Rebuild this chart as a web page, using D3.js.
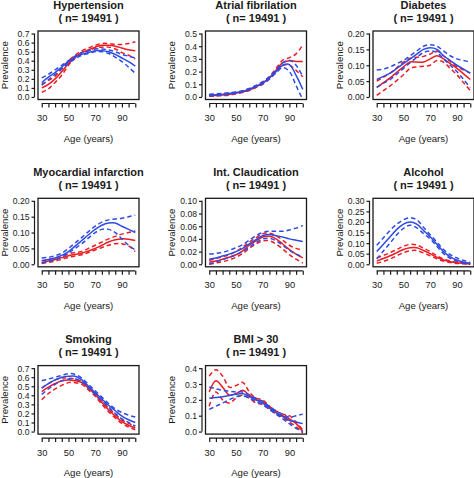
<!DOCTYPE html>
<html>
<head>
<meta charset="utf-8">
<script src="https://cdn.jsdelivr.net/npm/d3@7"></script>
<style>
  html, body { margin: 0; padding: 0; background: #ffffff; }
  svg { display: block; }
  text { font-family: "Liberation Sans", Arial, Helvetica, sans-serif; fill: #1a1a1a; }
</style>
</head>
<body>
<div id="chart"></div>
<script>
// ---------------- DATA ----------------
const ages = [30, 35, 40, 45, 50, 55, 60, 65, 70, 75, 80, 85, 90, 95, 100];
const xTicks = [30, 35, 40, 45, 50, 55, 60, 65, 70, 75, 80, 85, 90, 95, 100];
const xTickLabels = [30, 50, 70, 90];
const sampleLabel = "( n= 19491 )";
const panelTitles = ["Hypertension", "Atrial fibrilation", "Diabetes",
  "Myocardial infarction", "Int. Claudication", "Alcohol", "Smoking", "BMI > 30"];

// y tick values per panel
const hypTicks = [0, 0.1, 0.2, 0.3, 0.4, 0.5, 0.6, 0.7];
const afTicks = [0, 0.1, 0.2, 0.3, 0.4, 0.5];
const diabTicks = [0, 0.05, 0.10, 0.15, 0.20];
const miTicks = [0, 0.05, 0.10, 0.15, 0.20];
const icTicks = [0, 0.02, 0.04, 0.06, 0.08, 0.10];
const alcTicks = [0, 0.05, 0.10, 0.15, 0.20, 0.25, 0.30];
const smkTicks = [0, 0.1, 0.2, 0.3, 0.4, 0.5, 0.6, 0.7];
const bmiTicks = [0, 0.1, 0.2, 0.3, 0.4];
const tickDecimals = [1, 1, 2, 2, 2, 2, 1, 1];

// Hypertension
const hypRed     = [.10,.14,.20,.28,.37,.44,.49,.52,.55,.57,.57,.56,.54,.52,.51];
const hypRedLo   = [.05,.09,.16,.24,.35,.43,.48,.51,.54,.55,.55,.53,.49,.46,.42];
const hypRedHi   = [.14,.18,.23,.31,.40,.46,.51,.54,.57,.59,.59,.58,.58,.59,.61];
const hypBlue    = [.16,.22,.27,.33,.39,.44,.47,.49,.51,.51,.50,.47,.43,.39,.34];
const hypBlueLo  = [.13,.19,.25,.31,.37,.42,.46,.48,.50,.50,.48,.44,.39,.33,.26];
const hypBlueHi  = [.21,.25,.30,.35,.40,.45,.49,.51,.53,.53,.52,.50,.47,.45,.43];

// Atrial fibrilation
const afRed      = [.010,.012,.015,.020,.030,.040,.055,.080,.110,.150,.210,.270,.285,.280,.280];
const afRedLo    = [.005,.007,.010,.015,.025,.035,.050,.075,.100,.140,.195,.250,.250,.210,.160];
const afRedHi    = [.015,.018,.022,.027,.035,.047,.062,.088,.120,.160,.225,.290,.310,.340,.410];
const afBlue     = [.015,.018,.022,.028,.035,.045,.062,.085,.110,.150,.200,.250,.255,.170,.060];
const afBlueLo   = [.008,.012,.017,.022,.030,.040,.057,.080,.104,.142,.190,.232,.200,.090,-.020];
const afBlueHi   = [.022,.025,.028,.033,.040,.050,.068,.090,.118,.158,.212,.268,.290,.250,.160];

// Diabetes
const diabRed     = [.030,.045,.060,.078,.095,.110,.110,.110,.120,.130,.120,.105,.090,.073,.055];
const diabRedLo   = [.005,.020,.035,.052,.070,.090,.095,.097,.100,.115,.110,.090,.070,.045,.020];
const diabRedHi   = [.050,.062,.075,.092,.110,.122,.125,.128,.135,.145,.130,.112,.095,.085,.075];
const diabBlue    = [.055,.065,.075,.090,.105,.120,.135,.150,.155,.150,.130,.115,.100,.088,.075];
const diabBlueLo  = [.030,.043,.055,.072,.090,.108,.125,.140,.145,.140,.120,.100,.080,.055,.030];
const diabBlueHi  = [.085,.088,.095,.105,.115,.130,.145,.160,.165,.160,.145,.130,.120,.115,.110];

// Myocardial infarction
const miRed      = [.005,.010,.015,.021,.027,.031,.035,.042,.050,.060,.070,.077,.080,.079,.075];
const miRedLo    = [.002,.006,.010,.016,.022,.026,.030,.037,.045,.053,.060,.065,.065,.058,.040];
const miRedHi    = [.010,.015,.020,.026,.033,.037,.040,.050,.060,.070,.080,.088,.095,.100,.105];
const miBlue     = [.012,.015,.020,.028,.040,.057,.075,.093,.110,.123,.130,.130,.120,.110,.100];
const miBlueLo   = [.004,.009,.014,.023,.035,.050,.065,.083,.100,.110,.110,.100,.080,.060,.045];
const miBlueHi   = [.020,.022,.027,.035,.050,.067,.085,.103,.120,.133,.140,.143,.145,.150,.155];

// Intermittent claudication
const icRed      = [.003,.005,.008,.011,.015,.021,.030,.037,.043,.044,.040,.032,.023,.016,.010];
const icRedLo    = [.000,.002,.004,.007,.011,.017,.025,.032,.037,.037,.032,.024,.015,.008,.002];
const icRedHi    = [.006,.009,.012,.015,.020,.027,.035,.042,.048,.049,.045,.038,.030,.025,.022];
const icBlue     = [.008,.010,.013,.016,.020,.025,.032,.039,.045,.047,.045,.043,.040,.038,.036];
const icBlueLo   = [.000,.004,.007,.011,.015,.020,.027,.034,.040,.041,.037,.030,.022,.016,.012];
const icBlueHi   = [.016,.017,.019,.022,.026,.031,.038,.045,.050,.052,.052,.052,.054,.057,.061];

// Alcohol
const alcRed     = [.015,.027,.040,.055,.070,.078,.078,.065,.050,.033,.020,.012,.007,.004,.002];
const alcRedLo   = [.005,.013,.025,.040,.055,.064,.065,.053,.040,.026,.015,.008,.004,.002,.000];
const alcRedHi   = [.030,.042,.055,.070,.085,.094,.091,.076,.060,.040,.025,.016,.010,.007,.004];
const alcBlue    = [.060,.095,.130,.165,.190,.200,.190,.160,.130,.095,.060,.035,.020,.010,.005];
const alcBlueLo  = [.025,.063,.100,.140,.170,.185,.172,.145,.120,.085,.050,.028,.015,.006,.000];
const alcBlueHi  = [.090,.125,.160,.190,.210,.220,.210,.175,.140,.105,.070,.045,.030,.018,.010];

// Smoking
const smkRed     = [.44,.49,.53,.56,.57,.56,.54,.48,.41,.32,.24,.17,.11,.07,.04];
const smkRedLo   = [.35,.42,.47,.51,.54,.54,.52,.46,.39,.30,.22,.15,.09,.05,.02];
const smkRedHi   = [.48,.53,.57,.59,.59,.58,.55,.49,.42,.34,.26,.19,.13,.09,.06];
const smkBlue    = [.48,.53,.57,.60,.61,.61,.57,.50,.43,.36,.29,.23,.17,.13,.10];
const smkBlueLo  = [.41,.47,.52,.56,.58,.58,.55,.48,.41,.34,.27,.20,.14,.10,.06];
const smkBlueHi  = [.56,.58,.60,.62,.64,.63,.59,.52,.45,.38,.31,.25,.21,.18,.16];

// BMI > 30
const bmiRed     = [.25,.32,.28,.23,.24,.26,.23,.20,.19,.15,.12,.10,.08,.05,.00];
const bmiRedLo   = [.16,.25,.20,.18,.21,.23,.21,.18,.17,.14,.11,.09,.06,.03,-.01];
const bmiRedHi   = [.35,.39,.35,.28,.29,.31,.25,.21,.20,.16,.13,.11,.10,.06,.01];
const bmiBlue    = [.21,.215,.22,.227,.235,.24,.22,.20,.18,.15,.12,.095,.07,.06,.05];
const bmiBlueLo  = [.14,.16,.18,.20,.22,.225,.21,.19,.17,.14,.11,.08,.05,.02,.00];
const bmiBlueHi  = [.28,.27,.26,.255,.25,.25,.23,.21,.19,.16,.13,.11,.09,.10,.11];

// ---------------- BUILD ----------------
const panels = [
  { ticks: hypTicks,  series: [hypRedLo, hypRedHi, hypRed, hypBlueLo, hypBlueHi, hypBlue] },
  { ticks: afTicks,   series: [afRedLo, afRedHi, afRed, afBlueLo, afBlueHi, afBlue] },
  { ticks: diabTicks, series: [diabRedLo, diabRedHi, diabRed, diabBlueLo, diabBlueHi, diabBlue] },
  { ticks: miTicks,   series: [miRedLo, miRedHi, miRed, miBlueLo, miBlueHi, miBlue] },
  { ticks: icTicks,   series: [icRedLo, icRedHi, icRed, icBlueLo, icBlueHi, icBlue] },
  { ticks: alcTicks,  series: [alcRedLo, alcRedHi, alcRed, alcBlueLo, alcBlueHi, alcBlue] },
  { ticks: smkTicks,  series: [smkRedLo, smkRedHi, smkRed, smkBlueLo, smkBlueHi, smkBlue] },
  { ticks: bmiTicks,  series: [bmiRedLo, bmiRedHi, bmiRed, bmiBlueLo, bmiBlueHi, bmiBlue] }
];
const seriesColor = ["red", "red", "red", "blue", "blue", "blue"];
const seriesDashed = [true, true, false, true, true, false];

const RED = "#ec1c24", BLUE = "#2d4be2";
const W = 474, H = 478;
const cellW = 167.5, cellH = 167.3;
const boxL = 38, boxW = 101, boxT = 31, boxH = 68.5;

const svg = d3.select("#chart").append("svg")
  .attr("width", W).attr("height", H);

panels.forEach((p, i) => {
  const col = i % 3, row = Math.floor(i / 3);
  const ox = col * cellW, oy = row * cellH;
  const g = svg.append("g").attr("transform", `translate(${ox},${oy})`);

  const xMin = 30, xMax = 100, xPad = (xMax - xMin) * 0.04;
  const yMin = p.ticks[0], yMax = p.ticks[p.ticks.length - 1], yPad = (yMax - yMin) * 0.04;
  const x = d3.scaleLinear().domain([xMin - xPad, xMax + xPad]).range([boxL, boxL + boxW]);
  const y = d3.scaleLinear().domain([yMin - yPad, yMax + yPad]).range([boxT + boxH, boxT]);

  // clip
  const clipId = "clip" + i;
  g.append("clipPath").attr("id", clipId)
    .append("rect").attr("x", boxL).attr("y", boxT).attr("width", boxW).attr("height", boxH);

  const line = d3.line()
    .x((d, k) => x(ages[k]))
    .y(d => y(d))
    .curve(d3.curveCatmullRom.alpha(0.5));

  const lines = g.append("g").attr("clip-path", `url(#${clipId})`);
  p.series.forEach((s, k) => {
    lines.append("path")
      .attr("d", line(s))
      .attr("fill", "none")
      .attr("stroke", seriesColor[k] === "red" ? RED : BLUE)
      .attr("stroke-width", 1.5)
      .attr("stroke-dasharray", seriesDashed[k] ? "4.5,3" : null);
  });

  // box
  g.append("rect")
    .attr("x", boxL).attr("y", boxT).attr("width", boxW).attr("height", boxH)
    .attr("fill", "none").attr("stroke", "#1a1a1a").attr("stroke-width", 1.3);

  // x axis (offset below box, as in R)
  const xAxisY = boxT + boxH + 4;
  const xa = g.append("g").attr("transform", `translate(0,${xAxisY})`)
    .call(d3.axisBottom(x).tickValues(xTicks).tickSize(4).tickSizeOuter(0)
      .tickFormat(d => xTickLabels.includes(d) ? d : ""));
  xa.select(".domain").remove();
  xa.selectAll(".tick line").attr("stroke", "#1a1a1a").attr("stroke-width", 1.2);
  xa.append("line")
    .attr("x1", x(xTicks[0])).attr("x2", x(xTicks[xTicks.length - 1]))
    .attr("y1", 0).attr("y2", 0).attr("stroke", "#1a1a1a").attr("stroke-width", 1.2);
  xa.selectAll(".tick text")
    .attr("y", 17.5).attr("dy", 0)
    .style("font-size", "9.3px").style("fill", "#1a1a1a");
  xa.attr("font-family", null);

  // y axis (offset left of box)
  const yAxisX = boxL - 3.5;
  const ya = g.append("g").attr("transform", `translate(${yAxisX},0)`)
    .call(d3.axisLeft(y).tickValues(p.ticks).tickSize(3).tickSizeOuter(0)
      .tickFormat(d3.format(`.${tickDecimals[i]}f`)));
  ya.select(".domain").remove();
  ya.selectAll(".tick line").attr("stroke", "#1a1a1a").attr("stroke-width", 1.2);
  ya.append("line")
    .attr("x1", 0).attr("x2", 0)
    .attr("y1", y(p.ticks[0])).attr("y2", y(p.ticks[p.ticks.length - 1]))
    .attr("stroke", "#1a1a1a").attr("stroke-width", 1.2);
  ya.selectAll(".tick text")
    .attr("x", -(yAxisX - 29.5)).attr("dy", "0.35em")
    .style("font-size", "8.6px").style("fill", "#1a1a1a");
  ya.attr("font-family", null);

  // titles
  const cx = boxL + boxW / 2;
  g.append("text").attr("x", cx).attr("y", 8.7)
    .attr("text-anchor", "middle")
    .style("font-size", "11px").style("font-weight", "bold")
    .text(panelTitles[i]);
  g.append("text").attr("x", cx).attr("y", 21.5)
    .attr("text-anchor", "middle")
    .style("font-size", "11px").style("font-weight", "bold")
    .text(sampleLabel);

  // axis labels
  g.append("text").attr("x", cx).attr("y", 141.5)
    .attr("text-anchor", "middle")
    .style("font-size", "9.6px")
    .text("Age (years)");
  g.append("text")
    .attr("transform", `translate(7.5,${boxT + boxH / 2}) rotate(-90)`)
    .attr("text-anchor", "middle")
    .style("font-size", "9.6px")
    .text("Prevalence");
});
</script>
</body>
</html>
